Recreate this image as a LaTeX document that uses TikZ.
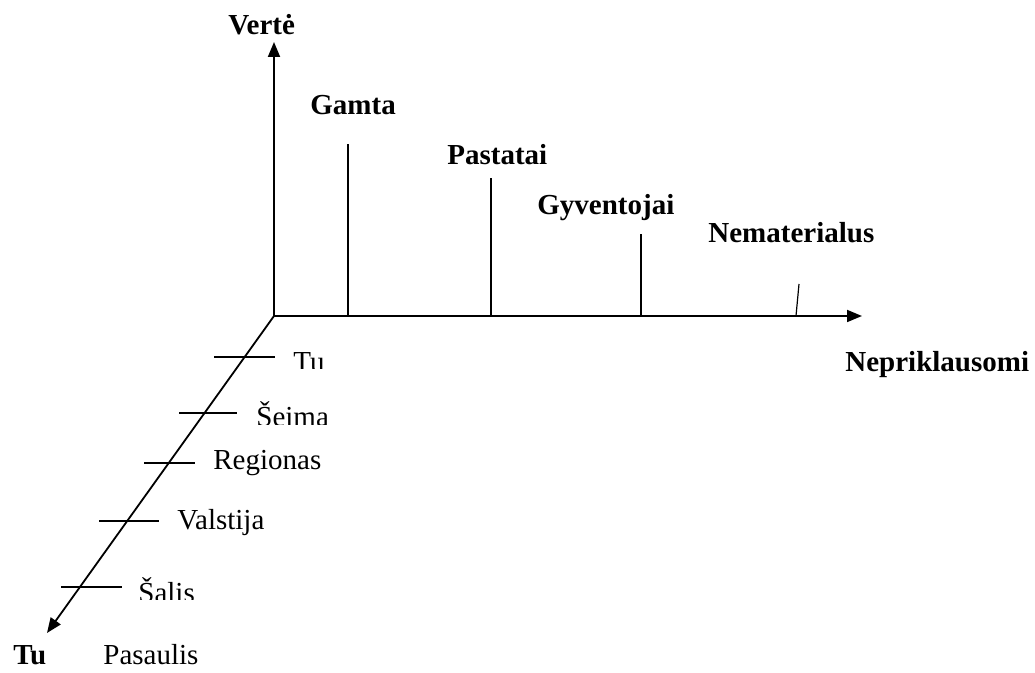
\documentclass[tikz,border=0pt]{standalone}
\usepackage{fontspec}
\setmainfont{Liberation Serif}
\usetikzlibrary{arrows.meta}

\tikzset{
  axisline/.style = {line width = 0.9pt, -{Triangle[length = 7.5pt, width = 6pt]}},
  stem/.style = {line width = 0.6pt},
  tickline/.style = {line width = 0.6pt},
  lbl/.style = {anchor = base west, inner sep = 0pt, font = \fontsize{14.5}{17}\selectfont},
  blbl/.style = {lbl, font = \fontsize{14.5}{17}\selectfont\bfseries}
}

\begin{document}
\begin{tikzpicture}[x = 0.5pt, y = -0.5pt]
        \useasboundingbox (0,0) rectangle (1035,673);

        \coordinate (O) at (274,316);
        \coordinate (ytip) at (274,42);
        \coordinate (xtip) at (862,316);
        \coordinate (ztip) at (47,633);

        \draw [axisline] (O) -- (ytip);
        \draw [axisline] (O) -- (xtip);
        \draw [axisline] (O) -- (ztip);

        \node [blbl] (verte) at (228,35) {Vertė};
        \node [blbl] (nepriklausomi) at (845,372) {Nepriklausomi};
        \node [blbl] (tuend) at (13,665) {Tu};
        \node [lbl] (pasaulis) at (103,665) {Pasaulis};

        % stems on the horizontal axis
        \node [blbl] (gamta) at (310,115) {Gamta};
        \node [blbl] (pastatai) at (447,165) {Pastatai};
        \node [blbl] (gyventojai) at (537,215) {Gyventojai};
        \node [blbl] (nematerialus) at (708,243) {Nematerialus};

        \foreach \x/\top/\name in {348/144/gamta, 491/178/pastatai, 641/234/gyventojai}
        {
            \coordinate (\name b) at (\x,316);
            \coordinate (\name t) at (\x,\top);
            \draw [stem] (\name b) -- (\name t);
        }
        \coordinate (nematerialusb) at (796,316);
        \coordinate (nematerialust) at (799,284);
        \draw [stem] (nematerialusb) -- (nematerialust);

        % ticks on the diagonal axis
        \foreach \a/\b/\y/\name in {214/275/357/tu, 179/237/413/seima, 144/195/463/regionas,
                                    99/159/521/valstija, 61/122/587/salis}
        {
            \coordinate (\name l) at (\a,\y);
            \coordinate (\name r) at (\b,\y);
            \draw [tickline] (\name l) -- (\name r);
        }

        \begin{scope}
            \clip (280,330) rectangle (400,369);
            \node [lbl] (tu) at (293,372) {Tu};
        \end{scope}
        \begin{scope}
            \clip (245,385) rectangle (400,425);
            \node [lbl] (seima) at (256,427) {Šeima};
        \end{scope}
        \node [lbl] (regionas) at (213,470) {Regionas};
        \node [lbl] (valstija) at (177,530) {Valstija};
        \begin{scope}
            \clip (125,560) rectangle (300,600);
            \node [lbl] (salis) at (138,603) {Šalis};
        \end{scope}
    \end{tikzpicture}
\end{document}
